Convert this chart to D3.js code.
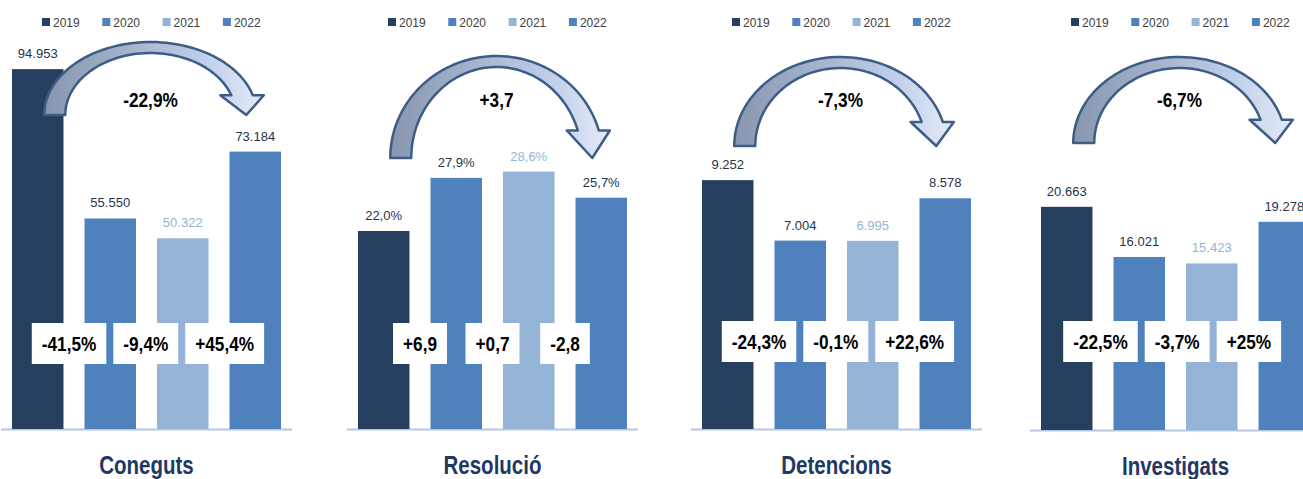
<!DOCTYPE html>
<html>
<head>
<meta charset="utf-8">
<title></title>
<style type="text/css">
    body{
        padding:0;
        margin:0;
        overflow:hidden;
        background:#fff;
    }
</style>
</head>
<body>
<div id='svg-chart'></div>
<script src="https://cdn.jsdelivr.net/npm/d3@7"></script>
<script type="text/javascript">

// ---- data ----
var years = ["2019", "2020", "2021", "2022"];
var titles = ["Coneguts", "Resolució", "Detencions", "Investigats"];

var coneguts    = [94953, 55550, 50322, 73184];
var resolucio   = [22.0, 27.9, 28.6, 25.7];
var detencions  = [9252, 7004, 6995, 8578];
var investigats = [20663, 16021, 15423, 19278];

// year-on-year change labels (between neighbouring bars)
var changesConeguts    = ["-41,5%", "-9,4%", "+45,4%"];
var changesResolucio   = ["+6,9", "+0,7", "-2,8"];
var changesDetencions  = ["-24,3%", "-0,1%", "+22,6%"];
var changesInvestigats = ["-22,5%", "-3,7%", "+25%"];

// 2019 -> 2022 change, shown inside the arrow
var totalChanges = ["-22,9%", "+3,7", "-7,3%", "-6,7%"];

// ---- layout / style ----
var width = 1303, height = 479;
var colors = ["#263f5f", "#4f81bd", "#95b3d7", "#4f81bd"];
var labelColors = ["#26344a", "#26344a", "#95b3d7", "#26344a"];

var cat = d3.formatLocale({decimal: ",", thousands: ".", grouping: [3], currency: ["", ""]});
var fmtInt = cat.format(",d");
var fmtPct = function(v){ return cat.format(",.1f")(v) + "%"; };

var panels = [
    {values: coneguts,    changes: changesConeguts,    fmt: fmtInt, x0: 12,   base: 429, yMax: 100000, plotTop: 50,  arrowBottom: 115, arrowTop: 42, boxTop: 323, titleY: 474},
    {values: resolucio,   changes: changesResolucio,   fmt: fmtPct, x0: 358,  base: 429, yMax: 35,     plotTop: 114, arrowBottom: 158, arrowTop: 56, boxTop: 323, titleY: 474},
    {values: detencions,  changes: changesDetencions,  fmt: fmtInt, x0: 702,  base: 429, yMax: 10000,  plotTop: 160, arrowBottom: 146, arrowTop: 57, boxTop: 321, titleY: 474},
    {values: investigats, changes: changesInvestigats, fmt: fmtInt, x0: 1041, base: 430, yMax: 25000,  plotTop: 160, arrowBottom: 143, arrowTop: 57, boxTop: 321, titleY: 475}
];
var panelWidth = 269;
var squeeze = 0.82;   // the original font is a condensed one
var boxGap = 7;

var svg = d3.select('#svg-chart')
    .append('svg')
    .attr('width', width)
    .attr('height', height);

var defs = svg.append('defs');
var grad = defs.append('linearGradient').attr('id', 'arrowGrad')
    .attr('x1', '0%').attr('x2', '100%').attr('y1', '0%').attr('y2', '0%');
grad.append('stop').attr('offset', '0%').attr('stop-color', '#8896ae');
grad.append('stop').attr('offset', '45%').attr('stop-color', '#a9b8d3');
grad.append('stop').attr('offset', '70%').attr('stop-color', '#bccbe8');
grad.append('stop').attr('offset', '100%').attr('stop-color', '#e4ebf8');

var sans = "'Liberation Sans', Arial, sans-serif";

// condensed text: real text, squeezed horizontally
function squeezedText(g, x, y, str, size, weight, fill){
    return g.append('text')
        .attr('transform', 'translate(' + x + ',' + y + ') scale(' + squeeze + ',1)')
        .attr('text-anchor', 'middle')
        .style('font-family', sans).style('font-size', size + 'px').style('font-weight', weight)
        .attr('fill', fill)
        .text(str);
}

// curved arrow, built from two half ellipses
function arrowPoints(cx, cy, ao, ai, bo, bi, hl, wing){
    var pts = [], n = 60, i, t;
    var phiO = Math.asin(hl / bo), phiI = Math.asin(hl / bi);
    for(i = 0; i <= n; i++){
        t = Math.PI - (Math.PI - phiO) * i / n;
        pts.push([cx + ao * Math.cos(t), cy - bo * Math.sin(t)]);
    }
    var xo = cx + ao * Math.cos(phiO), xi = cx + ai * Math.cos(phiI);
    pts.push([xo + wing, cy - hl]);
    pts.push([cx + (ao + ai) / 2, cy]);
    pts.push([xi - wing, cy - hl]);
    for(i = 0; i <= n; i++){
        t = phiI + (Math.PI - phiI) * i / n;
        pts.push([cx + ai * Math.cos(t), cy - bi * Math.sin(t)]);
    }
    return pts;
}

panels.forEach(function(p, k){
    var g = svg.append('g');

    var x = d3.scaleBand().domain(years).range([p.x0, p.x0 + panelWidth]).paddingInner(0.29).paddingOuter(0);
    var y = d3.scaleLinear().domain([0, p.yMax]).range([p.base, p.plotTop]);
    var bw = x.bandwidth();

    // legend
    var leg = g.selectAll('g.leg').data(years).enter().append('g')
        .attr('transform', function(d, i){ return 'translate(' + (p.x0 + 30 + i * 60.3) + ',18)'; });
    leg.append('rect').attr('width', 8).attr('height', 8).attr('fill', function(d, i){ return colors[i]; });
    leg.append('text').attr('x', 11).attr('y', 8.5).text(function(d){ return d; })
        .style('font-family', sans).style('font-size', '12px').attr('fill', '#404040');

    // baseline
    g.append('line')
        .attr('x1', p.x0 - 11).attr('x2', p.x0 + panelWidth + 11)
        .attr('y1', p.base + 0.5).attr('y2', p.base + 0.5)
        .attr('stroke', '#b3c7e3').attr('stroke-width', 2);

    // bars
    g.selectAll('rect.bar').data(p.values).enter().append('rect')
        .attr('class', 'bar')
        .attr('x', function(d, i){ return x(years[i]); })
        .attr('width', bw)
        .attr('y', function(d){ return y(d); })
        .attr('height', function(d){ return p.base - y(d); })
        .attr('fill', function(d, i){ return colors[i]; });

    // value labels
    g.selectAll('text.val').data(p.values).enter().append('text')
        .attr('x', function(d, i){ return x(years[i]) + bw / 2; })
        .attr('y', function(d){ return y(d) - 11; })
        .attr('text-anchor', 'middle')
        .style('font-family', sans).style('font-size', '13px')
        .attr('fill', function(d, i){ return labelColors[i]; })
        .text(function(d){ return p.fmt(d); });

    // change boxes between neighbouring bars: centred on the gaps, then pushed apart
    var boxes = p.changes.map(function(c, i){
        var t = squeezedText(g, 0, 0, c, 21, 'bold', '#000');
        var w = t.node().getComputedTextLength() * squeeze + 20;
        return {t: t, w: w, c: (x(years[i]) + bw + x(years[i + 1])) / 2};
    });
    for(var it = 0; it < 10; it++){
        for(var i = 0; i < boxes.length - 1; i++){
            var A = boxes[i], B = boxes[i + 1];
            var gap = (B.c - B.w / 2) - (A.c + A.w / 2);
            if(gap < boxGap){ var d = (boxGap - gap) / 2; A.c -= d; B.c += d; }
        }
    }
    boxes.forEach(function(b){
        b.t.attr('transform', 'translate(' + b.c + ',' + (p.boxTop + 28) + ') scale(' + squeeze + ',1)');
        g.insert('rect', function(){ return b.t.node(); })
            .attr('x', b.c - b.w / 2).attr('y', p.boxTop)
            .attr('width', b.w).attr('height', 41)
            .attr('fill', '#fff');
    });

    // arrow 2019 -> 2022
    var xl = x(years[0]) + bw / 2 + 17;
    var xt = x(years[3]) + bw / 2 - 9;
    var cx = (xl + xt) / 2, a = (xt - xl) / 2;
    var bo = p.arrowBottom - p.arrowTop;
    var pts = arrowPoints(cx, p.arrowBottom, a + 10.5, a - 10.5, bo, bo - 11, bo * 0.27, 11);
    g.append('path')
        .attr('d', d3.line()(pts) + 'Z')
        .attr('fill', 'url(#arrowGrad)')
        .attr('stroke', '#3d5d86').attr('stroke-width', 2.5)
        .attr('stroke-linejoin', 'round');

    squeezedText(g, cx, 107, totalChanges[k], 21, 'bold', '#000');

    // panel title
    squeezedText(g, p.x0 + panelWidth / 2, p.titleY, titles[k], 25, 'bold', '#1f3864');
});

</script>
</body>
</html>
